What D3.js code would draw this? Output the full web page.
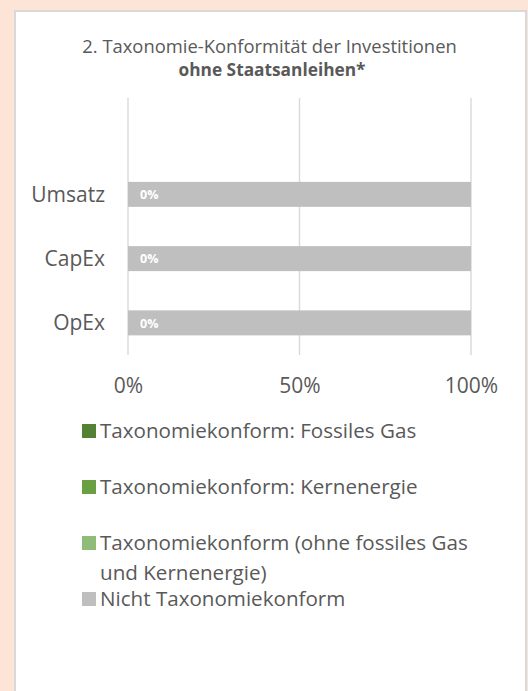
<!DOCTYPE html>
<html>
<head>
<meta charset="utf-8">
<script src="https://cdn.jsdelivr.net/npm/d3@7"></script>
<style>
  html, body { margin: 0; padding: 0; background: #FCE4D6; }
  svg { display: block; }
  text { font-family: "Open Sans", sans-serif; fill: #595959; font-variant-ligatures: none; }
</style>
</head>
<body>
<svg id="chart" width="528" height="691"></svg>
<script>
// ---- data ----
const titleLines = ["2. Taxonomie-Konformität der Investitionen", "ohne Staatsanleihen*"];
const categories = ["Umsatz", "CapEx", "OpEx"];
const seriesKeys = ["gas", "kern", "konform", "nicht"];
const legendLines = [
  ["Taxonomiekonform: Fossiles Gas"],
  ["Taxonomiekonform: Kernenergie"],
  ["Taxonomiekonform (ohne fossiles Gas", "und Kernenergie)"],
  ["Nicht Taxonomiekonform"]
];
const seriesColors = ["#548235", "#68A043", "#8FBC78", "#BFBFBF"];
const gasValues = [0, 0, 0];
const kernValues = [0, 0, 0];
const konformValues = [0, 0, 0];
const nichtValues = [100, 100, 100];
const barLabels = ["0%", "0%", "0%"];
const xTicks = [0, 50, 100];

// ---- build table ----
const table = categories.map((c, i) => ({
  cat: c, gas: gasValues[i], kern: kernValues[i], konform: konformValues[i], nicht: nichtValues[i], label: barLabels[i]
}));

const FONT = "'Open Sans', sans-serif";
const svg = d3.select("#chart");

// panel
svg.append("rect")
  .attr("x", 15).attr("y", 11).attr("width", 511).attr("height", 700)
  .attr("fill", "#FFFFFF").attr("stroke", "#D9D9D9").attr("stroke-width", 2);

// title
svg.append("text").attr("x", 269.5).attr("y", 53).attr("text-anchor", "middle")
  .style("font-size", "18.4px").text(titleLines[0]);
svg.append("text").attr("x", 272).attr("y", 76).attr("text-anchor", "middle")
  .style("font-size", "17.3px").style("font-weight", "bold").text(titleLines[1]);

// scales
const x = d3.scaleLinear().domain([0, 100]).range([128, 471]);
const y = d3.scaleBand().domain([""].concat(categories)).range([98, 355])
  .paddingInner(0.611).paddingOuter(0.3055);

// gridlines
svg.append("g").selectAll("line").data(xTicks).join("line")
  .attr("x1", d => x(d)).attr("x2", d => x(d))
  .attr("y1", 98).attr("y2", 355)
  .attr("stroke", "#D9D9D9").attr("stroke-width", 1.4);

// stacked bars
const stack = d3.stack().keys(seriesKeys)(table);
const color = d3.scaleOrdinal().domain(seriesKeys).range(seriesColors);
svg.append("g").selectAll("g").data(stack).join("g")
  .attr("fill", d => color(d.key))
  .selectAll("rect").data(d => d).join("rect")
  .attr("x", d => x(d[0]))
  .attr("width", d => x(d[1]) - x(d[0]))
  .attr("y", d => y(d.data.cat))
  .attr("height", y.bandwidth());

// data labels (Taxonomiekonform series)
const konformLayer = stack[2];
svg.append("g").selectAll("text").data(konformLayer).join("text")
  .attr("x", d => x(d[1]) + 12)
  .attr("y", d => y(d.data.cat) + y.bandwidth() / 2)
  .attr("dy", "0.38em")
  .style("font-size", "12.5px").style("font-weight", "bold").style("fill", "#FFFFFF")
  .text(d => d.data.label);

// y axis labels
const yAxis = d3.axisLeft(y).tickSize(0).tickPadding(23);
const gy = svg.append("g").attr("transform", `translate(${x(0)},0)`).call(yAxis);
gy.select(".domain").remove();
gy.selectAll("text").style("font-size", "21px").style("fill", "#595959")
  .style("font-family", FONT).attr("dy", "0.36em");

// x axis labels
const xAxis = d3.axisBottom(x).tickValues(xTicks).tickSize(0).tickPadding(0).tickFormat(d => d + "%");
const gx = svg.append("g").attr("transform", "translate(0,378)").call(xAxis);
gx.select(".domain").remove();
gx.selectAll("text").style("font-size", "21px").style("fill", "#595959")
  .style("font-family", FONT);

// legend
const legend = svg.append("g").selectAll("g").data(legendLines).join("g")
  .attr("transform", (d, i) => `translate(82,${438 + i * 56})`);
legend.append("rect").attr("x", 0).attr("y", -14).attr("width", 14).attr("height", 14)
  .attr("fill", (d, i) => seriesColors[i]);
legend.append("text").attr("x", 18).attr("y", 0)
  .style("font-size", "20.6px")
  .selectAll("tspan").data(d => d).join("tspan")
  .attr("x", 18).attr("dy", (d, i) => i === 0 ? 0 : 29.5)
  .text(d => d);
</script>
</body>
</html>
